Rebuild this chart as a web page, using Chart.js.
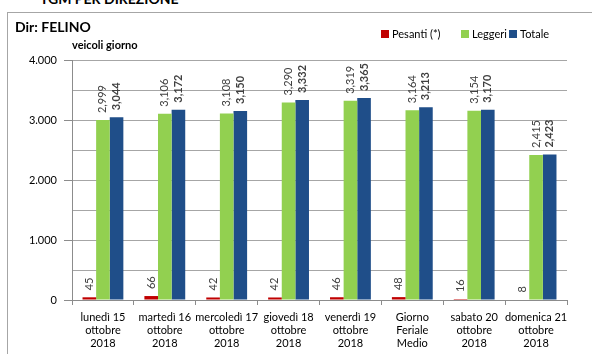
<!DOCTYPE html>
<html><head><meta charset="utf-8">
<script src="https://cdn.jsdelivr.net/npm/chart.js@4/dist/chart.umd.min.js"></script>
<style>
html,body{margin:0;padding:0;background:#fff;overflow:hidden;}
#wrap{position:relative;width:592px;height:354px;overflow:hidden;font-family:Lato,"Liberation Sans",sans-serif;}
canvas{position:absolute;left:0;top:0;}
#frame{position:absolute;left:7px;top:12px;width:600px;height:400px;border-left:1px solid #a6a6a6;border-top:1px solid #a6a6a6;box-sizing:border-box;}
.t{position:absolute;white-space:nowrap;color:#000;}
#sup{left:40px;top:-10px;font-size:14px;font-weight:bold;}
#title{left:15px;top:18px;font-size:14px;font-weight:bold;}
#sub{left:72px;top:38px;font-size:11px;font-weight:bold;}
.lg{position:absolute;top:27px;font-size:11px;color:#000;white-space:nowrap;}
.lg i{display:inline-block;width:8px;height:8px;margin-right:3px;vertical-align:0px;}
</style></head>
<body>
<div id="wrap">
<div class="t" id="sup">TGM PER DIREZIONE</div>
<div id="frame"></div>
<canvas id="c" width="592" height="354"></canvas>
<div class="t" id="title">Dir: FELINO</div>
<div class="t" id="sub">veicoli giorno</div>
<div class="lg" style="left:381px"><i style="background:#c00000"></i>Pesanti (*)</div>
<div class="lg" style="left:461px"><i style="background:#92d050"></i>Leggeri</div>
<div class="lg" style="left:509px"><i style="background:#1f4e89"></i>Totale</div>
</div>
<script>
const categories = [
  ['lunedì 15','ottobre','2018'],
  ['martedì 16','ottobre','2018'],
  ['mercoledì 17','ottobre','2018'],
  ['giovedì 18','ottobre','2018'],
  ['venerdì 19','ottobre','2018'],
  ['Giorno','Feriale','Medio'],
  ['sabato 20','ottobre','2018'],
  ['domenica 21','ottobre','2018']
];
const pesanti = [45, 66, 42, 42, 46, 48, 16, 8];
const leggeri = [2999, 3106, 3108, 3290, 3319, 3164, 3154, 2415];
const totale  = [3044, 3172, 3150, 3332, 3365, 3213, 3170, 2423];
const yTickLabels = {0:'0',1000:'1.000',2000:'2.000',3000:'3.000',4000:'4.000'};

const FONT = 'Lato, "Liberation Sans", sans-serif';

const labelPlugin = {
  id: 'vlabels',
  afterDatasetsDraw(chart) {
    const ctx = chart.ctx;
    chart.data.datasets.forEach((ds, di) => {
      const meta = chart.getDatasetMeta(di);
      meta.data.forEach((el, i) => {
        const v = ds.data[i];
        const txt = v >= 1000 ? Math.floor(v/1000) + ',' + String(v%1000).padStart(3,'0') : String(v);
        ctx.save();
        ctx.translate(el.x, el.y - 7);
        ctx.rotate(-Math.PI/2);
        ctx.font = (di === 2 ? 'bold ' : '') + '11px ' + FONT;
        ctx.fillStyle = '#404040';
        ctx.textAlign = 'left';
        ctx.textBaseline = 'middle';
        ctx.fillText(txt, 0, 0);
        ctx.restore();
      });
    });
  }
};

new Chart(document.getElementById('c'), {
  type: 'bar',
  data: {
    labels: categories,
    datasets: [
      {label:'Pesanti (*)', data: pesanti, backgroundColor:'#c00000'},
      {label:'Leggeri', data: leggeri, backgroundColor:'#92d050'},
      {label:'Totale', data: totale, backgroundColor:'#1f4e89'}
    ]
  },
  options: {
    responsive: false,
    animation: false,
    layout: {padding: {left: 0, right: 25, top: 60, bottom: 0}},
    datasets: {bar: {categoryPercentage: 0.66, barPercentage: 1.0}},
    plugins: {legend: {display: false}, tooltip: {enabled: false}},
    scales: {
      x: {
        grid: {offset: true, drawOnChartArea: false, drawTicks: true, tickLength: 5, color: '#8c8c8c'},
        border: {color: '#8c8c8c'},
        ticks: {color: '#000', font: {family: FONT, size: 11, lineHeight: 1.18}, padding: 6, maxRotation: 0, autoSkip: false},
        afterFit(s) { s.height = 54; }
      },
      y: {
        min: 0, max: 4000,
        grid: {
          color: '#a6a6a6',
          tickLength: 8,
          tickColor: (c) => (c.tick && c.tick.value % 1000 === 0) ? '#8c8c8c' : 'rgba(0,0,0,0)'
        },
        border: {color: '#8c8c8c'},
        ticks: {
          stepSize: 500,
          color: '#000',
          font: {family: FONT, size: 11},
          padding: 7,
          callback: (v) => (v in yTickLabels) ? yTickLabels[v] : ''
        },
        afterFit(s) { s.width = 72; }
      }
    }
  },
  plugins: [labelPlugin]
});
</script>
</body></html>
